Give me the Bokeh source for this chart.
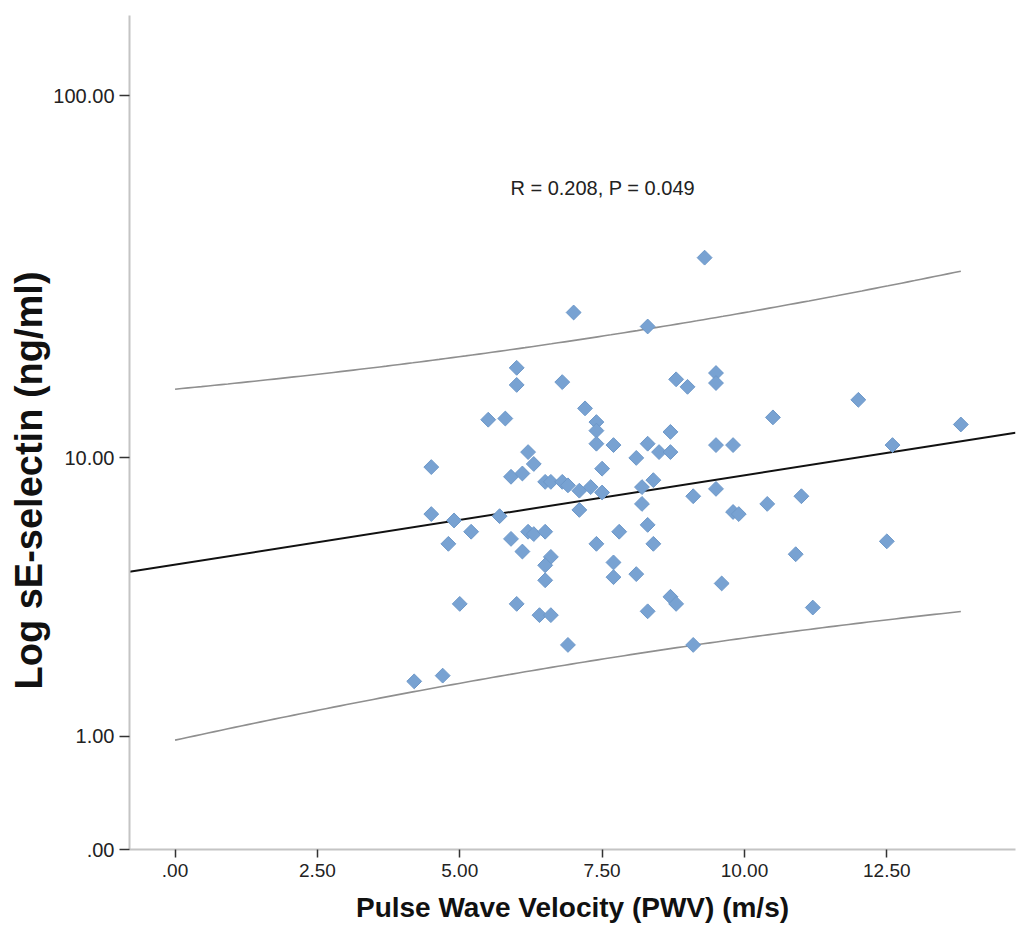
import numpy as np
from bokeh.plotting import figure
from bokeh.models import Range1d, FixedTicker, Label, ColumnDataSource, Title
from bokeh.embed import file_html
from bokeh.resources import INLINE

# PWV (m/s)
pwv = [9.3, 7.0, 8.3, 6.0, 6.0, 6.8, 7.2, 5.5, 5.8, 7.4, 7.4, 7.4, 7.7,
       8.8, 9.0, 9.5, 9.5, 12.0, 10.5, 13.8, 12.6, 8.7, 8.3, 8.5, 8.7, 8.1,
       9.5, 9.8, 4.5, 6.2, 6.3, 5.9, 6.1, 7.5, 6.5, 6.6, 6.8, 6.9, 7.1, 7.3,
       7.5, 8.2, 8.4, 9.5, 9.1, 11.0, 10.4, 9.8, 9.9, 8.2, 7.1, 4.5, 4.9,
       5.7, 5.2, 4.8, 5.9, 6.2, 6.3, 6.5, 6.1, 6.6, 6.5, 6.5, 7.4, 7.8, 8.3,
       8.4, 7.7, 7.7, 8.1, 5.0, 6.0, 6.4, 6.6, 8.3, 8.7, 8.8, 6.9, 4.2, 4.7,
       12.5, 10.9, 9.6, 11.2, 9.1]
# sE-selectin (ng/ml)
selectin = [36.5, 25.8, 23.6, 18.1, 16.2, 16.5, 13.9, 12.9, 13.0, 12.7, 12.0,
            11.0, 10.9, 16.8, 16.0, 17.5, 16.4, 14.7, 13.1, 12.5, 10.9, 11.9,
            11.0, 10.4, 10.4, 10.0, 10.9, 10.9, 9.4, 10.4, 9.6, 8.8, 9.0, 9.3,
            8.5, 8.5, 8.5, 8.3, 8.0, 8.2, 7.9, 8.2, 8.6, 8.1, 7.7, 7.7, 7.3,
            6.9, 6.8, 7.3, 7.0, 6.8, 6.5, 6.7, 6.0, 5.5, 5.7, 6.0, 5.9, 6.0,
            5.2, 5.0, 4.7, 4.2, 5.5, 6.0, 6.3, 5.5, 4.8, 4.3, 4.4, 3.5, 3.5,
            3.2, 3.2, 3.3, 3.7, 3.5, 2.5, 1.8, 1.9, 5.6, 5.1, 4.1, 3.4, 2.5]

x_tick_values = [0.0, 2.5, 5.0, 7.5, 10.0, 12.5]
x_tick_labels = [".00", "2.50", "5.00", "7.50", "10.00", "12.50"]
y_tick_values = [0.0, 1.0, 10.0, 100.0]
y_tick_labels = [".00", "1.00", "10.00", "100.00"]
annotation_text = "R = 0.208, P = 0.049"
T_CRIT = 1.989  # t(0.975, df=84)


def tr(v):
    return np.log10(np.asarray(v, dtype=float) + 1.0)


X = np.asarray(pwv, dtype=float)
Y = tr(selectin)
n = len(X)
slope, intercept = np.polyfit(X, Y, 1)
resid = Y - (intercept + slope * X)
s = np.sqrt(np.sum(resid ** 2) / (n - 2))
xbar = X.mean()
sxx = np.sum((X - xbar) ** 2)

FONT = "Liberation Sans"
x0, x1 = -0.80, 14.76
p = figure(width=1018, height=944, x_range=Range1d(x0, x1), y_range=Range1d(0, 2.218),
           output_backend="svg", toolbar_location=None,
           min_border_left=129, min_border_right=3, min_border_top=15, min_border_bottom=95)
p.outline_line_color = None
p.xgrid.visible = False
p.ygrid.visible = False
p.background_fill_color = "white"

# prediction band
bx = np.linspace(0.0, X.max(), 120)
fit_b = intercept + slope * bx
half = T_CRIT * s * np.sqrt(1 + 1 / n + (bx - xbar) ** 2 / sxx)
p.line(bx, fit_b + half, line_color="#8f8f8f", line_width=1.6)
p.line(bx, fit_b - half, line_color="#8f8f8f", line_width=1.6)

# fit line
lx = np.array([x0, x1])
p.line(lx, intercept + slope * lx, line_color="#111111", line_width=2)

src = ColumnDataSource(dict(x=X, y=Y))
p.scatter("x", "y", source=src, marker="square", angle=np.pi / 4, size=10.5,
          fill_color="#78a2d2", line_color="#6d98c9", line_width=1)

p.add_layout(Label(x=5.89, y=1.758, text=annotation_text, text_align="left",
                   text_baseline="middle", text_font=FONT,
                   text_font_size="20px", text_color="#222222"))

for ax in (p.xaxis[0], p.yaxis[0]):
    ax.axis_line_color = "#c4c4c4"
    ax.axis_line_width = 2
    ax.major_tick_line_color = "#333333"
    ax.major_tick_line_width = 1.5
    ax.major_tick_in = 0
    ax.minor_tick_line_color = None
    ax.major_label_text_font = FONT
    ax.major_label_text_color = "#222222"
    ax.axis_label_text_font = FONT
    ax.axis_label_text_font_style = "bold"
    ax.axis_label_text_color = "#111111"

p.xaxis.ticker = FixedTicker(ticks=x_tick_values)
p.xaxis.major_label_overrides = {v: l for v, l in zip(x_tick_values, x_tick_labels)}
p.xaxis.major_label_text_font_size = "19px"
p.xaxis.major_tick_out = 8
p.xaxis.major_label_standoff = 6
p.xaxis.axis_label = "Pulse Wave Velocity (PWV) (m/s)"
p.xaxis.axis_label_text_font_size = "28px"
p.xaxis.axis_label_standoff = 12

yt = [float(v) for v in tr(y_tick_values)]
p.yaxis.ticker = FixedTicker(ticks=yt)
p.yaxis.major_label_overrides = {v: l for v, l in zip(yt, y_tick_labels)}
p.yaxis.major_label_text_font_size = "20px"
p.yaxis.major_tick_out = 10
p.yaxis.major_label_standoff = 5

p.add_layout(Title(text="Log sE-selectin (ng/ml)", align="left", offset=160,
                   standoff=2, text_font=FONT, text_font_size="38px",
                   text_font_style="bold", text_color="#111111"), "left")

open("out.html", "w").write(file_html(p, INLINE))
